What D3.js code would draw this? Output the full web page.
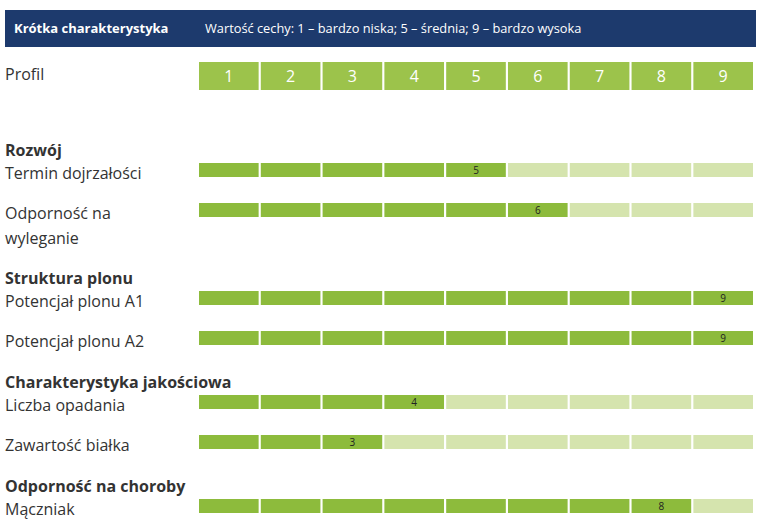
<!DOCTYPE html>
<html>
<head>
<meta charset="utf-8">
<script src="https://cdn.jsdelivr.net/npm/d3@7"></script>
<style>
  body { margin: 0; background: #fff; }
  svg { display: block; font-family: "Open Sans", sans-serif; }
</style>
</head>
<body>
<svg id="chart" width="762" height="520"></svg>
<script>
const scaleValues = [1, 2, 3, 4, 5, 6, 7, 8, 9];
const sections = ["Rozwój", "Struktura plonu", "Charakterystyka jakościowa", "Odporność na choroby"];
const traits = [
  ["Termin dojrzałości"],
  ["Odporność na", "wyleganie"],
  ["Potencjał plonu A1"],
  ["Potencjał plonu A2"],
  ["Liczba opadania"],
  ["Zawartość białka"],
  ["Mączniak"]
];
const traitSection = [0, 0, 1, 1, 2, 2, 3];
const traitValues = [5, 6, 9, 9, 4, 3, 8];

const headerTitle = "Krótka charakterystyka";
const headerNote = "Wartość cechy: 1 – bardzo niska; 5 – średnia; 9 – bardzo wysoka";

const svg = d3.select('#chart');
const textColor = '#333';

const x = d3.scaleBand()
  .domain(scaleValues)
  .range([199, 753])
  .paddingInner(0.035);

// header bar
svg.append('rect')
  .attr('x', 5).attr('y', 10)
  .attr('width', 751).attr('height', 37)
  .attr('fill', '#1d3a6d');

svg.append('text')
  .attr('x', 14).attr('y', 33)
  .attr('fill', '#fff')
  .attr('font-size', 13)
  .attr('font-weight', 'bold')
  .text(headerTitle);

svg.append('text')
  .attr('x', 205).attr('y', 33)
  .attr('fill', '#fff')
  .attr('font-size', 12.8)
  .text(headerNote);

// profile row
svg.append('text')
  .attr('x', 5).attr('y', 80)
  .attr('fill', textColor)
  .attr('font-size', 16)
  .text('Profil');

const profile = svg.append('g');
profile.selectAll('rect')
  .data(scaleValues)
  .join('rect')
  .attr('x', d => x(d))
  .attr('y', 62)
  .attr('width', x.bandwidth())
  .attr('height', 28)
  .attr('fill', '#9cc34b');

profile.selectAll('text')
  .data(scaleValues)
  .join('text')
  .attr('x', d => x(d) + x.bandwidth() / 2)
  .attr('y', 82)
  .attr('text-anchor', 'middle')
  .attr('fill', '#fff')
  .attr('font-size', 16)
  .text(d => d);

// trait rows
let cursor = 139;
let lastSection = -1;
traits.forEach((lines, i) => {
  if (traitSection[i] !== lastSection) {
    lastSection = traitSection[i];
    svg.append('text')
      .attr('x', 5).attr('y', cursor + 17)
      .attr('fill', textColor)
      .attr('font-size', 16)
      .attr('font-weight', 'bold')
      .text(sections[lastSection]);
    cursor += 24;
  }
  const barY = cursor;
  const v = traitValues[i];

  const label = svg.append('text')
    .attr('x', 5).attr('y', barY + 16)
    .attr('fill', textColor)
    .attr('font-size', 16);
  lines.forEach((line, j) => {
    label.append('tspan')
      .attr('x', 5)
      .attr('dy', j === 0 ? 0 : 25)
      .text(line);
  });

  const row = svg.append('g');
  row.selectAll('rect')
    .data(scaleValues)
    .join('rect')
    .attr('x', d => x(d))
    .attr('y', barY)
    .attr('width', x.bandwidth())
    .attr('height', 14)
    .attr('fill', d => d <= v ? '#8dbb3c' : '#d5e4ae');

  row.append('text')
    .attr('x', x(v) + x.bandwidth() / 2)
    .attr('y', barY + 11)
    .attr('text-anchor', 'middle')
    .attr('fill', '#222')
    .attr('font-size', 10)
    .text(v);

  cursor += 40 + (lines.length - 1) * 24;
});
</script>
</body>
</html>
